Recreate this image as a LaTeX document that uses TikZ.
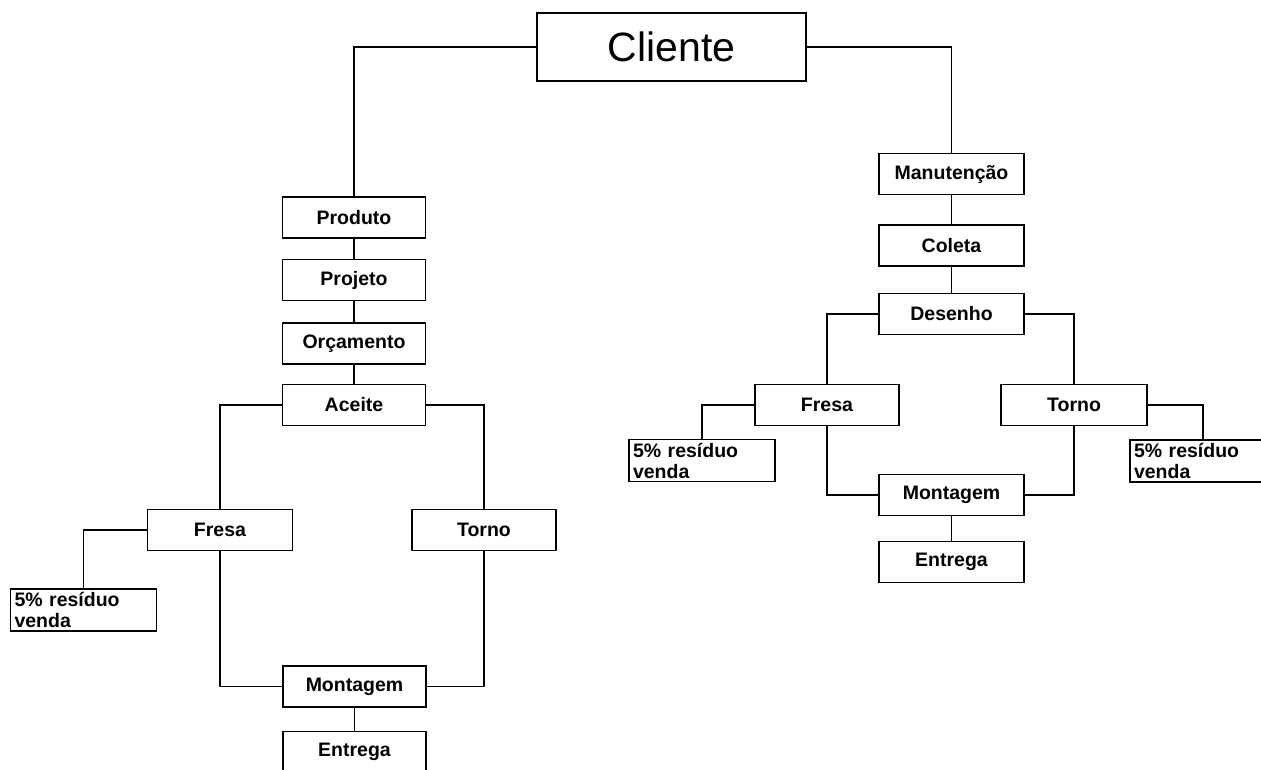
\documentclass[tikz,border=0pt]{standalone}
\usepackage{fontspec}
\setmainfont{Liberation Sans}
\begin{document}
\begin{tikzpicture}[x=1pt,y=-1pt,line width=1.3pt,
  box/.style={draw, minimum width=143pt, minimum height=41pt, inner sep=0pt,
    font=\fontsize{19.5}{22}\selectfont\bfseries},
  resbox/.style={draw, minimum width=146pt, minimum height=42pt, text width=138pt,
    inner xsep=4pt, inner ysep=0pt, align=left,
    font=\fontsize{19.5}{21}\selectfont\bfseries},
  wire/.style={line width=1.3pt}]
\useasboundingbox (0,0) rectangle (1261,769);
\clip (0,0) rectangle (1261,769);
% top
\node[draw, minimum width=269pt, minimum height=68pt, inner sep=0pt,
  font=\fontsize{41}{45}\selectfont] (cliente) at (671.5,47) {Cliente};
% left column
\node[box] (prod)   at (354,217.5) {Produto};
\node[box] (proj)   at (354,280)   {Projeto};
\node[box] (orc)    at (354,343.5) {Orçamento};
\node[box] (aceite) at (354,405)   {Aceite};
\node[box, minimum width=145pt] (fresaL) at (220,530) {Fresa};
\node[box, minimum width=144pt] (tornoL) at (484,530) {Torno};
\node[resbox] (resL) at (83.5,610) {5\% resíduo\\venda};
\node[box] (montL) at (354.5,686.5) {Montagem};
\node[box] (entL)  at (354.5,752)   {Entrega};
% right column
\node[box, minimum width=145pt] (manut)   at (951.5,174)   {Manutenção};
\node[box, minimum width=145pt] (coleta)  at (951.5,245.5) {Coleta};
\node[box, minimum width=145pt] (desenho) at (951.5,314)   {Desenho};
\node[box, minimum width=144pt] (fresaR)  at (827,405)     {Fresa};
\node[box, minimum width=146pt] (tornoR)  at (1074,405)    {Torno};
\node[resbox] (resR1) at (702,460.5) {5\% resíduo\\venda};
\node[resbox] (resR2) at (1203,461)  {5\% resíduo\\venda};
\node[box, minimum width=145pt] (montR) at (951.5,495) {Montagem};
\node[box, minimum width=145pt] (entR)  at (951.5,562) {Entrega};
% connectors
\draw[wire] (cliente.west) -| (prod.north);
\draw[wire] (cliente.east) -| (manut.north);
\draw[wire] (prod) -- (proj);
\draw[wire] (proj) -- (orc);
\draw[wire] (orc) -- (aceite);
\draw[wire] (aceite.west) -| (fresaL.north);
\draw[wire] (aceite.east) -| (tornoL.north);
\draw[wire] (fresaL.west) -| (resL.north);
\draw[wire] (fresaL.south) |- (montL.west);
\draw[wire] (tornoL.south) |- (montL.east);
\draw[wire] (montL) -- (entL);
\draw[wire] (manut) -- (coleta);
\draw[wire] (coleta) -- (desenho);
\draw[wire] (desenho.west) -| (fresaR.north);
\draw[wire] (desenho.east) -| (tornoR.north);
\draw[wire] (fresaR.west) -| (resR1.north);
\draw[wire] (tornoR.east) -| (resR2.north);
\draw[wire] (fresaR.south) |- (montR.west);
\draw[wire] (tornoR.south) |- (montR.east);
\draw[wire] (montR) -- (entR);
\end{tikzpicture}
\end{document}
